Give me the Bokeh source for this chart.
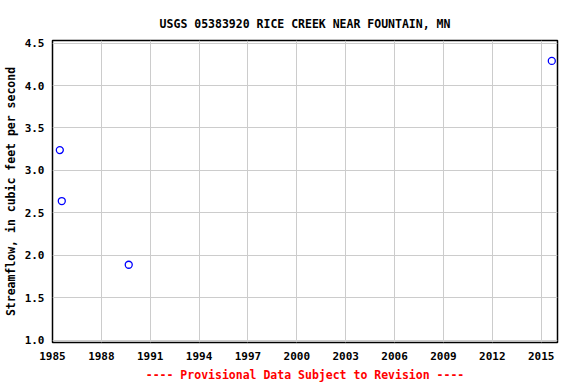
from bokeh.plotting import figure
from bokeh.models import Range1d, FixedTicker, Title, PrintfTickFormatter
from bokeh.embed import file_html
from bokeh.resources import INLINE

# Data (decimal years, cfs)
years = [1985.45, 1985.57, 1989.68, 2015.65]
flow = [3.24, 2.64, 1.89, 4.29]

x_ticks = [1985, 1988, 1991, 1994, 1997, 2000, 2003, 2006, 2009, 2012, 2015]
y_ticks = [1.0, 1.5, 2.0, 2.5, 3.0, 3.5, 4.0, 4.5]

FONT = "DejaVu Sans Mono"

p = figure(width=576, height=384, output_backend="svg", toolbar_location=None,
           x_range=Range1d(1985, 2016), y_range=Range1d(0.975, 4.53),
           min_border_left=52, min_border_right=19, min_border_top=40,
           min_border_bottom=40, background_fill_color="white",
           border_fill_color="white")

t = Title(text="USGS 05383920 RICE CREEK NEAR FOUNTAIN, MN", align="center",
          text_font=FONT, text_font_size="11.5px", text_font_style="bold",
          text_color="black", standoff=20)
p.add_layout(t, "above")

p.scatter(years, flow, marker="circle", size=7, fill_color=None,
          line_color="blue", line_width=1.3)

p.xaxis.ticker = FixedTicker(ticks=x_ticks)
p.yaxis.ticker = FixedTicker(ticks=y_ticks)
p.yaxis.formatter = PrintfTickFormatter(format="%.1f")

for ax in (p.xaxis[0], p.yaxis[0]):
    ax.major_label_text_font = FONT
    ax.major_label_text_font_size = "11px"
    ax.major_label_text_font_style = "bold"
    ax.major_label_text_color = "black"
    ax.axis_label_text_font = FONT
    ax.axis_label_text_font_size = "11.5px"
    ax.axis_label_text_font_style = "bold"
    ax.major_tick_line_color = None
    ax.minor_tick_line_color = None
    ax.major_tick_out = 0
    ax.major_tick_in = 0
    ax.minor_tick_out = 0
    ax.minor_tick_in = 0
    ax.axis_line_color = None

p.xaxis.axis_label = "---- Provisional Data Subject to Revision ----"
p.xaxis.axis_label_text_color = "red"
p.xaxis.major_label_standoff = 9
p.xaxis.axis_label_standoff = 5

p.yaxis.axis_label = "Streamflow, in cubic feet per second"
p.yaxis.axis_label_text_color = "black"
p.yaxis.major_label_standoff = 8
p.yaxis.axis_label_standoff = 4

p.grid.grid_line_color = "#cccccc"
p.grid.grid_line_width = 1
p.outline_line_color = "black"
p.outline_line_width = 1.5

open("out.html", "w").write(file_html(p, INLINE))
